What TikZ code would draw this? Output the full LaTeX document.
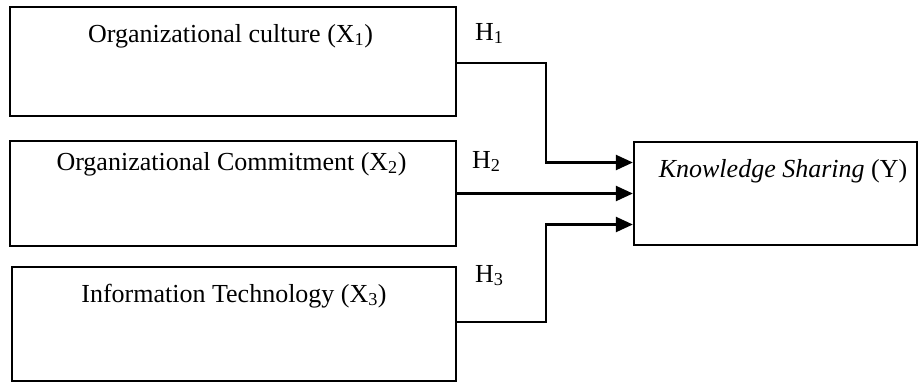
\documentclass[tikz,border=0pt]{standalone}
\usepackage{fontspec}
\setmainfont{Liberation Serif}
\usetikzlibrary{arrows.meta}
\tikzset{
  box/.style={draw, line width=2.3pt, minimum width=#1, inner sep=0pt},
  txt/.style={anchor=base, inner sep=0pt, font=\fontsize{26}{28}\selectfont},
  conn/.style={line width=2.3pt},
  arr/.style={conn, -{Triangle[length=17pt,width=15pt]}}
}
\begin{document}
\begin{tikzpicture}[x=1pt,y=-1pt]
\useasboundingbox (0,0) rectangle (918,383);
% boxes
\node[box=446pt, minimum height=109pt] (b1) at (233,61.5) {};
\node[box=446pt, minimum height=105pt] (b2) at (233,193.5) {};
\node[box=444pt, minimum height=114pt] (b3) at (234,324) {};
\node[box=283pt, minimum height=103pt] (ks) at (775.5,193.5) {};
% texts
\node[txt] (t1) at (230.5,42) {Organizational culture (X\textsubscript{1})};
\node[txt] (t2) at (231.5,170) {Organizational Commitment (X\textsubscript{2})};
\node[txt] (t3) at (234,302) {Information Technology (X\textsubscript{3})};
\node[txt] (tk) at (783,177) {\textit{Knowledge Sharing} (Y)};
% hypothesis labels
\node[txt, anchor=base west] (h1) at (475,40) {H\textsubscript{1}};
\node[txt, anchor=base west] (h2) at (472,168) {H\textsubscript{2}};
\node[txt, anchor=base west] (h3) at (475,282) {H\textsubscript{3}};
% connectors
\coordinate (a1) at ([yshift=31pt]ks.west);
\coordinate (a2) at (ks.west);
\coordinate (a3) at ([yshift=-31pt]ks.west);
\coordinate (j) at (546,0);
\draw[arr] ([yshift=-1.5pt]b1.east) -| (j |- a1) -- (a1);
\draw[arr] (b2.east) -- (a2);
\draw[arr] ([yshift=2pt]b3.east) -| (j |- a3) -- (a3);
\end{tikzpicture}
\end{document}
